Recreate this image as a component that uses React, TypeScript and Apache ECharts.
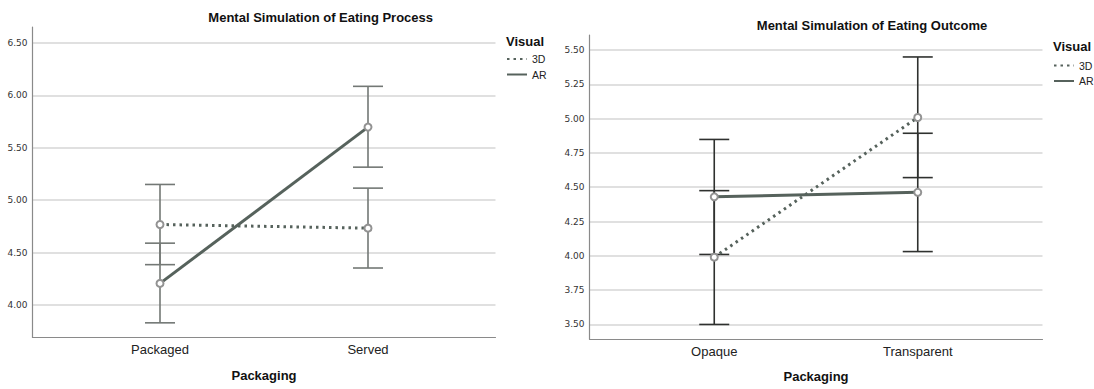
import React, { useEffect, useRef } from "react";
import * as echarts from "echarts";

// ---- data ----
const leftCategories = ["Packaged", "Served"];
const rightCategories = ["Opaque", "Transparent"];
const seriesNames = ["3D", "AR"];

const leftMean3D = [4.768, 4.733];
const leftMeanAR = [4.206, 5.697];
const leftErr3D = [[4.385, 5.15], [4.353, 5.115]];
const leftErrAR = [[3.83, 4.59], [5.315, 6.086]];

const rightMean3D = [3.99, 5.008];
const rightMeanAR = [4.43, 4.463];
const rightErr3D = [[3.5, 4.475], [4.57, 5.449]];
const rightErrAR = [[4.01, 4.848], [4.031, 4.893]];

const leftTicks = [4.0, 4.5, 5.0, 5.5, 6.0, 6.5];
const rightTicks = [3.5, 3.75, 4.0, 4.25, 4.5, 4.75, 5.0, 5.25, 5.5];

const leftTitle = "Mental Simulation of Eating Process";
const rightTitle = "Mental Simulation of Eating Outcome";
const xName = "Packaging";
const legendTitle = "Visual";

const FONT = "Liberation Sans, Arial, sans-serif";
const LINE_COLOR = "#56625c";
const GRID_COLOR = "#d6d6d6";
const AXIS_COLOR = "#8a8a8a";

function errSeries(
  name: string,
  ranges: number[][],
  idx: number,
  color: string
) {
  return {
    type: "custom",
    name: name + "-err",
    xAxisIndex: idx,
    yAxisIndex: idx,
    z: 1,
    silent: true,
    data: ranges.map((r, i) => [i, r[0], r[1]]),
    encode: { x: 0, y: [1, 2] },
    renderItem: (_params: any, api: any) => {
      const x = api.value(0);
      const lo = api.coord([x, api.value(1)]);
      const hi = api.coord([x, api.value(2)]);
      const w = 15;
      const style = { stroke: color, lineWidth: 1.6 };
      return {
        type: "group",
        children: [
          { type: "line", shape: { x1: lo[0], y1: lo[1], x2: hi[0], y2: hi[1] }, style },
          { type: "line", shape: { x1: lo[0] - w, y1: lo[1], x2: lo[0] + w, y2: lo[1] }, style },
          { type: "line", shape: { x1: hi[0] - w, y1: hi[1], x2: hi[0] + w, y2: hi[1] }, style },
        ],
      };
    },
  };
}

function lineSeries(name: string, values: number[], idx: number, dotted: boolean) {
  return {
    type: "line",
    name,
    xAxisIndex: idx,
    yAxisIndex: idx,
    z: 3,
    data: values.map((v, i) => [i, v]),
    symbol: "emptyCircle",
    symbolSize: 7,
    itemStyle: { color: "#939393", borderColor: "#939393", borderWidth: 1 },
    lineStyle: dotted
      ? { color: LINE_COLOR, width: 3, type: [2.5, 4] as any, cap: "butt" }
      : { color: LINE_COLOR, width: 3, type: "solid" },
    emphasis: { disabled: true },
  };
}

function xAxis(idx: number, cats: string[]) {
  return {
    type: "value",
    gridIndex: idx,
    min: -0.613,
    max: 1.613,
    axisLine: { show: true, onZero: false, lineStyle: { color: AXIS_COLOR, width: 1.2 } },
    axisTick: { show: false, customValues: [0, 1] },
    splitLine: { show: false },
    axisLabel: {
      customValues: [0, 1],
      formatter: (v: number) => cats[Math.round(v)] ?? "",
      color: "#222",
      fontFamily: FONT,
      fontSize: 13,
      margin: 6,
    },
    name: xName,
    nameLocation: "middle",
    nameGap: idx === 0 ? 32 : 31,
    nameTextStyle: { fontFamily: FONT, fontSize: 13, fontWeight: "bold", color: "#111" },
  };
}

function yAxis(idx: number, min: number, max: number, ticks: number[]) {
  return {
    type: "value",
    gridIndex: idx,
    min,
    max,
    axisLine: { show: true, onZero: false, lineStyle: { color: AXIS_COLOR, width: 1.2 } },
    axisTick: { show: false, customValues: ticks },
    splitLine: { show: true, lineStyle: { color: GRID_COLOR, width: 1.5 } },
    axisLabel: {
      customValues: ticks,
      formatter: (v: number) => v.toFixed(2),
      color: "#333",
      fontFamily: "DejaVu Sans, sans-serif",
      fontSize: 9,
      margin: 5,
    },
  };
}

function legend(left: number, top: number) {
  return {
    left,
    top,
    orient: "vertical",
    itemWidth: 20,
    itemHeight: 8,
    itemGap: 4.5,
    padding: 0,
    data: seriesNames,
    selectedMode: false,
    itemStyle: { opacity: 0, color: "transparent", borderColor: "transparent", borderWidth: 0 },
    textStyle: { fontFamily: FONT, fontSize: 10.5, color: "#222" },
  };
}

export default function App() {
  const ref = useRef<HTMLDivElement>(null);
  useEffect(() => {
    if (!ref.current) return;
    const chart = echarts.init(ref.current, undefined, { renderer: "svg" });
    chart.setOption({
      animation: false,
      backgroundColor: "#ffffff",
      grid: [
        { left: 32.5, top: 27, width: 463, height: 310.3 },
        { left: 589.5, top: 35, width: 453, height: 304 },
      ],
      xAxis: [xAxis(0, leftCategories), xAxis(1, rightCategories)],
      yAxis: [yAxis(0, 3.692, 6.652, leftTicks), yAxis(1, 3.394, 5.609, rightTicks)],
      legend: [legend(506, 53.5), legend(1053, 60)],
      graphic: [
        {
          type: "text",
          x: 320.7,
          y: 17.3,
          style: { text: leftTitle, fontFamily: FONT, fontSize: 13, fontWeight: "bold", fill: "#111", textAlign: "center", textVerticalAlign: "middle" },
        },
        {
          type: "text",
          x: 872,
          y: 25,
          style: { text: rightTitle, fontFamily: FONT, fontSize: 13, fontWeight: "bold", fill: "#111", textAlign: "center", textVerticalAlign: "middle" },
        },
        {
          type: "text",
          x: 506,
          y: 41,
          style: { text: legendTitle, fontFamily: FONT, fontSize: 13, fontWeight: "bold", fill: "#111", textAlign: "left", textVerticalAlign: "middle" },
        },
        {
          type: "text",
          x: 1053,
          y: 46,
          style: { text: legendTitle, fontFamily: FONT, fontSize: 13, fontWeight: "bold", fill: "#111", textAlign: "left", textVerticalAlign: "middle" },
        },
      ],
      series: [
        errSeries("3D", leftErr3D, 0, "#737875"),
        errSeries("AR", leftErrAR, 0, "#737875"),
        lineSeries("3D", leftMean3D, 0, true),
        lineSeries("AR", leftMeanAR, 0, false),
        errSeries("3D", rightErr3D, 1, "#2f312f"),
        errSeries("AR", rightErrAR, 1, "#2f312f"),
        lineSeries("3D", rightMean3D, 1, true),
        lineSeries("AR", rightMeanAR, 1, false),
      ],
    });
    return () => chart.dispose();
  }, []);
  return (
    <div
      ref={ref}
      style={{ position: "fixed", left: 0, top: 0, width: 1094, height: 389 }}
    />
  );
}
